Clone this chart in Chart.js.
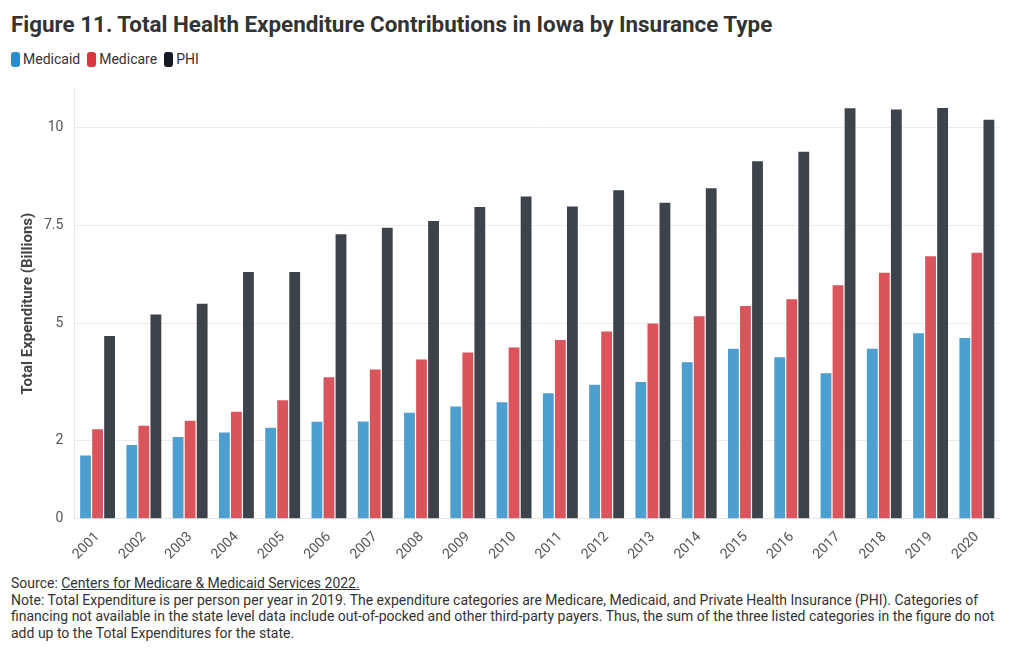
<!DOCTYPE html>
<html>
<head>
<meta charset="utf-8">
<script src="https://cdn.jsdelivr.net/npm/chart.js@4/dist/chart.umd.min.js"></script>
<style>
  body { margin: 0; background: #fff; font-family: Roboto, sans-serif; color: #333; }
  #title { position: absolute; left: 11px; top: 11px; font-size: 22.4px; font-weight: bold; color: #333; white-space: nowrap; }
  #legend { position: absolute; left: 11px; top: 51px; font-size: 14px; color: #333; }
  #legend span.item { display: inline-block; margin-right: 7px; }
  #legend span.box { display: inline-block; width: 9px; height: 15px; border-radius: 3px; vertical-align: -3px; margin-right: 3px; }
  #wrap { position: absolute; left: 0; top: 69px; width: 1020px; height: 496px; }
  #note { position: absolute; left: 11px; top: 575px; width: 998px; font-size: 14px; line-height: 16.5px; color: #333; }
  #note a { color: #333; text-decoration: underline; }
</style>
</head>
<body>
<div id="title">Figure 11. Total Health Expenditure Contributions in Iowa by Insurance Type</div>
<div id="legend"></div>
<div id="wrap"><canvas id="myChart"></canvas></div>
<div id="note">
  Source: <a>Centers for Medicare &amp; Medicaid Services 2022.</a><br>
  Note: Total Expenditure is per person per year in 2019. The expenditure categories are Medicare, Medicaid, and Private Health Insurance (PHI). Categories of financing not available in the state level data include out-of-pocked and other third-party payers. Thus, the sum of the three listed categories in the figure do not add up to the Total Expenditures for the state.
</div>
<script>
var years = ["2001","2002","2003","2004","2005","2006","2007","2008","2009","2010",
             "2011","2012","2013","2014","2015","2016","2017","2018","2019","2020"];
var medicaid = [1.62,1.89,2.09,2.21,2.33,2.48,2.49,2.71,2.87,2.98,3.21,3.43,3.50,4.00,4.35,4.13,3.72,4.35,4.74,4.62];
var medicare = [2.29,2.38,2.51,2.74,3.03,3.62,3.82,4.07,4.25,4.38,4.57,4.79,4.99,5.18,5.44,5.61,5.97,6.29,6.71,6.80];
var phi = [4.67,5.22,5.50,6.31,6.31,7.27,7.44,7.61,7.97,8.24,7.98,8.40,8.08,8.45,9.14,9.38,10.49,10.46,10.50,10.20];
var yTicks = [0,2,5,7.5,10];

var seriesNames = ["Medicaid","Medicare","PHI"];
var barColors = ["#4c9fce","#d9555b","#3d434a"];
// legend swatches are a bit stronger than the bars
var legendColors = ["#2a8dc5","#d9353f","#131a22"];

var legend = document.getElementById("legend");
for (let i=0; i<seriesNames.length; i++){
  let item = document.createElement("span");
  item.className = "item";
  item.innerHTML = '<span class="box" style="background:'+legendColors[i]+'"></span>'+seriesNames[i];
  legend.appendChild(item);
}

var ctx = document.getElementById("myChart");
var myChart = new Chart(ctx, {
  type: "bar",
  data: {
    labels: years,
    datasets: [
      { label: seriesNames[0], data: medicaid, backgroundColor: barColors[0] },
      { label: seriesNames[1], data: medicare, backgroundColor: barColors[1] },
      { label: seriesNames[2], data: phi, backgroundColor: barColors[2] }
    ]
  },
  options: {
    responsive: true,
    maintainAspectRatio: false,
    animation: false,
    datasets: { bar: { categoryPercentage: 0.78, barPercentage: 0.9 } },
    layout: { padding: { left: 19, right: 20, top: 8, bottom: 0 } },
    plugins: {
      legend: { display: false },
      tooltip: { enabled: false }
    },
    scales: {
      x: {
        grid: { display: false },
        border: { color: "#e6e6e6" },
        ticks: {
          color: "#555",
          font: { family: "Roboto", size: 14 },
          minRotation: 45,
          maxRotation: 45,
          padding: 2
        }
      },
      y: {
        min: 0,
        max: 11,
        afterBuildTicks: function(axis) {
          axis.ticks = yTicks.map(function(v) { return { value: v }; });
        },
        grid: { color: "#ececec", drawTicks: false },
        border: { display: true, color: "#e6e6e6" },
        ticks: {
          color: "#555",
          font: { family: "Roboto", size: 14 },
          padding: 11,
          callback: function(v) { return String(v); }
        },
        title: {
          display: true,
          text: "Total Expenditure (Billions)",
          color: "#444",
          font: { family: "Roboto", size: 15, weight: "bold" },
          padding: { top: 0, bottom: -4 }
        }
      }
    }
  }
});
</script>
</body>
</html>
